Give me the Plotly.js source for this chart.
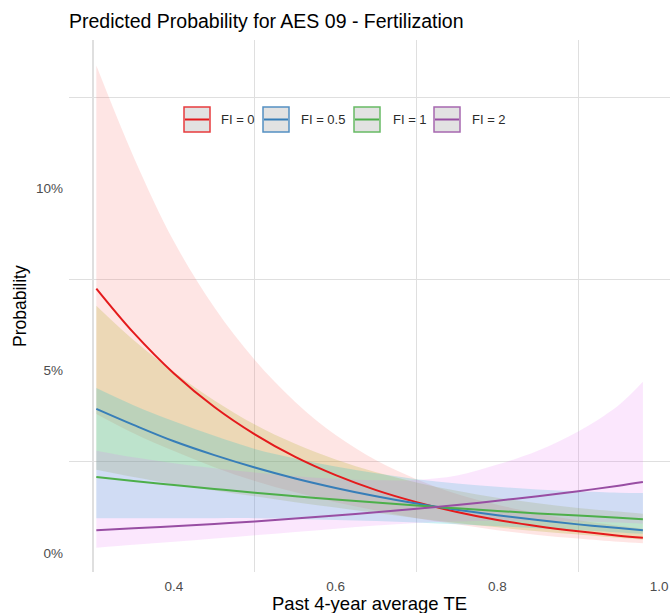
<!DOCTYPE html>
<html>
<head>
<meta charset="utf-8">
<script src="https://cdn.plot.ly/plotly-3.0.1.min.js"></script>
<style>html,body{margin:0;padding:0;background:#fff;}#chart{width:670px;height:613px;}</style>
</head>
<body>
<div id="chart"></div>
<script>
// ---- data (probabilities in percent) ----
const te = [0.304, 0.35, 0.40, 0.45, 0.50, 0.55, 0.60, 0.65, 0.70, 0.75, 0.80, 0.85, 0.90, 0.95, 0.98];

const fi0   = [7.25, 6.04, 4.92, 4.00, 3.25, 2.63, 2.13, 1.72, 1.39, 1.12, 0.90, 0.73, 0.59, 0.47, 0.41];
const fi0Lo = [3.81, 3.28, 2.79, 2.35, 1.97, 1.66, 1.39, 1.16, 0.95, 0.78, 0.62, 0.49, 0.39, 0.30, 0.26];
const fi0Hi = [13.37, 10.87, 8.54, 6.73, 5.29, 4.14, 3.23, 2.54, 2.02, 1.61, 1.32, 1.08, 0.89, 0.74, 0.66];

const fi05   = [3.95, 3.51, 3.06, 2.68, 2.34, 2.04, 1.78, 1.55, 1.35, 1.18, 1.03, 0.90, 0.78, 0.68, 0.62];
const fi05Lo = [2.28, 2.08, 1.88, 1.71, 1.55, 1.39, 1.24, 1.09, 0.95, 0.82, 0.70, 0.59, 0.50, 0.41, 0.36];
const fi05Hi = [6.78, 5.84, 4.96, 4.18, 3.52, 2.99, 2.56, 2.21, 1.93, 1.70, 1.51, 1.36, 1.23, 1.13, 1.07];

const fi1   = [2.08, 1.97, 1.86, 1.75, 1.65, 1.55, 1.46, 1.38, 1.30, 1.22, 1.15, 1.08, 1.02, 0.96, 0.92];
const fi1Lo = [0.95, 0.95, 0.95, 0.95, 0.95, 0.93, 0.90, 0.87, 0.83, 0.78, 0.73, 0.67, 0.62, 0.56, 0.52];
const fi1Hi = [4.52, 4.05, 3.61, 3.21, 2.85, 2.59, 2.37, 2.18, 2.02, 1.90, 1.81, 1.74, 1.69, 1.65, 1.64];

const fi2   = [0.62, 0.67, 0.73, 0.79, 0.86, 0.94, 1.02, 1.11, 1.21, 1.31, 1.43, 1.55, 1.69, 1.84, 1.94];
const fi2Lo = [0.14, 0.22, 0.30, 0.39, 0.48, 0.57, 0.66, 0.75, 0.82, 0.86, 0.88, 0.88, 0.86, 0.83, 0.80];
const fi2Hi = [2.80, 2.62, 2.46, 2.32, 2.20, 2.10, 2.03, 1.99, 2.00, 2.12, 2.42, 2.80, 3.33, 4.05, 4.69];

const seriesNames = ['FI = 0', 'FI = 0.5', 'FI = 1', 'FI = 2'];
const xTickVals = [0.4, 0.6, 0.8, 1.0];
const xTickText = ['0.4', '0.6', '0.8', '1.0'];
const yTickVals = [0, 5, 10];
const yTickText = ['0%', '5%', '10%'];

// ---- styles ----
const lineColors = ['#e41a1c', '#377eb8', '#4daf4a', '#984ea3'];
const ribbonColors = ['rgba(248,118,109,0.19)', 'rgba(163,165,0,0.2)', 'rgba(0,190,205,0.2)', 'rgba(231,107,243,0.16)'];
const FONT = 'Liberation Sans, Arial, Helvetica, sans-serif';

const mids = [fi0, fi05, fi1, fi2];
const los = [fi0Lo, fi05Lo, fi1Lo, fi2Lo];
const his = [fi0Hi, fi05Hi, fi1Hi, fi2Hi];

const traces = [];
for (let i = 0; i < 4; i++) {
  traces.push({
    x: te, y: los[i], type: 'scatter', mode: 'lines',
    line: {width: 0, color: 'rgba(0,0,0,0)', shape: 'spline', smoothing: 1},
    hoverinfo: 'skip', showlegend: false
  });
  traces.push({
    x: te, y: his[i], type: 'scatter', mode: 'lines', fill: 'tonexty',
    fillcolor: ribbonColors[i],
    line: {width: 0, color: 'rgba(0,0,0,0)', shape: 'spline', smoothing: 1},
    hoverinfo: 'skip', showlegend: false
  });
}
for (let i = 0; i < 4; i++) {
  traces.push({
    x: te, y: mids[i], type: 'scatter', mode: 'lines', name: seriesNames[i],
    line: {color: lineColors[i], width: 2, shape: 'spline', smoothing: 1},
    showlegend: false
  });
}

// plot area in pixels
const L = 69, R = 670, T = 40, B = 572;
const px = v => (v - L) / (R - L);
const py = v => (B - v) / (B - T);

const shapes = [];
const annotations = [];
const boxX = [184, 263, 354, 434];
const textX = [219, 299, 391, 470];
const boxTop = 107, boxBot = 132, midY = 119.5, boxW = 26;
for (let i = 0; i < 4; i++) {
  shapes.push({type: 'rect', xref: 'paper', yref: 'paper',
    x0: px(boxX[i]), x1: px(boxX[i] + boxW), y0: py(boxBot), y1: py(boxTop),
    fillcolor: '#dedede', line: {color: lineColors[i], width: 1.5}, opacity: 0.85});
  shapes.push({type: 'line', xref: 'paper', yref: 'paper',
    x0: px(boxX[i] + 1), x1: px(boxX[i] + boxW - 1), y0: py(midY), y1: py(midY),
    line: {color: lineColors[i], width: 2}});
  annotations.push({xref: 'paper', yref: 'paper', x: px(textX[i]), y: py(midY),
    xanchor: 'left', yanchor: 'middle', showarrow: false, text: seriesNames[i],
    font: {family: FONT, size: 13, color: '#2b2b2b'}});
}
annotations.push({xref: 'paper', yref: 'paper', x: px(20), y: 0.5, xanchor: 'center', yanchor: 'middle',
  textangle: -90, showarrow: false, text: 'Probability', font: {family: FONT, size: 17.5, color: '#000'}});
annotations.push({xref: 'paper', yref: 'paper', x: 0.5, y: py(603), xanchor: 'center', yanchor: 'middle',
  showarrow: false, text: 'Past 4-year average TE', font: {family: FONT, size: 18.5, color: '#000'}});

const gridColor = '#dfdfdf';
const layout = {
  width: 670, height: 613,
  margin: {l: L, r: 670 - R, t: T, b: 613 - B, pad: 0},
  paper_bgcolor: '#fff', plot_bgcolor: '#fff',
  showlegend: false,
  title: {text: 'Predicted Probability for AES 09 - Fertilization',
    font: {family: FONT, size: 19.5, color: '#000'},
    xref: 'container', yref: 'container', x: 69 / 670, xanchor: 'left',
    y: 1 - 21.5 / 613, yanchor: 'middle'},
  xaxis: {range: [0.2702, 1.0135], tickmode: 'array', tickvals: xTickVals, ticktext: xTickText,
    showgrid: false, zeroline: false, showline: false, ticks: '', ticklabelstandoff: 4,
    tickfont: {family: FONT, size: 13.5, color: '#4d4d4d'},
    minor: {tickmode: 'array', tickvals: [0.3, 0.5, 0.7, 0.9], showgrid: true, gridcolor: gridColor, gridwidth: 1.3, ticks: ''}},
  yaxis: {range: [-0.527, 14.07], tickmode: 'array', tickvals: yTickVals, ticktext: yTickText,
    showgrid: false, zeroline: false, showline: false, ticks: '', ticklabelstandoff: 5,
    tickfont: {family: FONT, size: 13.5, color: '#4d4d4d'},
    minor: {tickmode: 'array', tickvals: [2.5, 7.5, 12.5], showgrid: true, gridcolor: gridColor, gridwidth: 1.3, ticks: ''}},
  shapes: shapes,
  annotations: annotations
};

Plotly.newPlot('chart', traces, layout, {displayModeBar: false, staticPlot: true});
</script>
</body>
</html>
